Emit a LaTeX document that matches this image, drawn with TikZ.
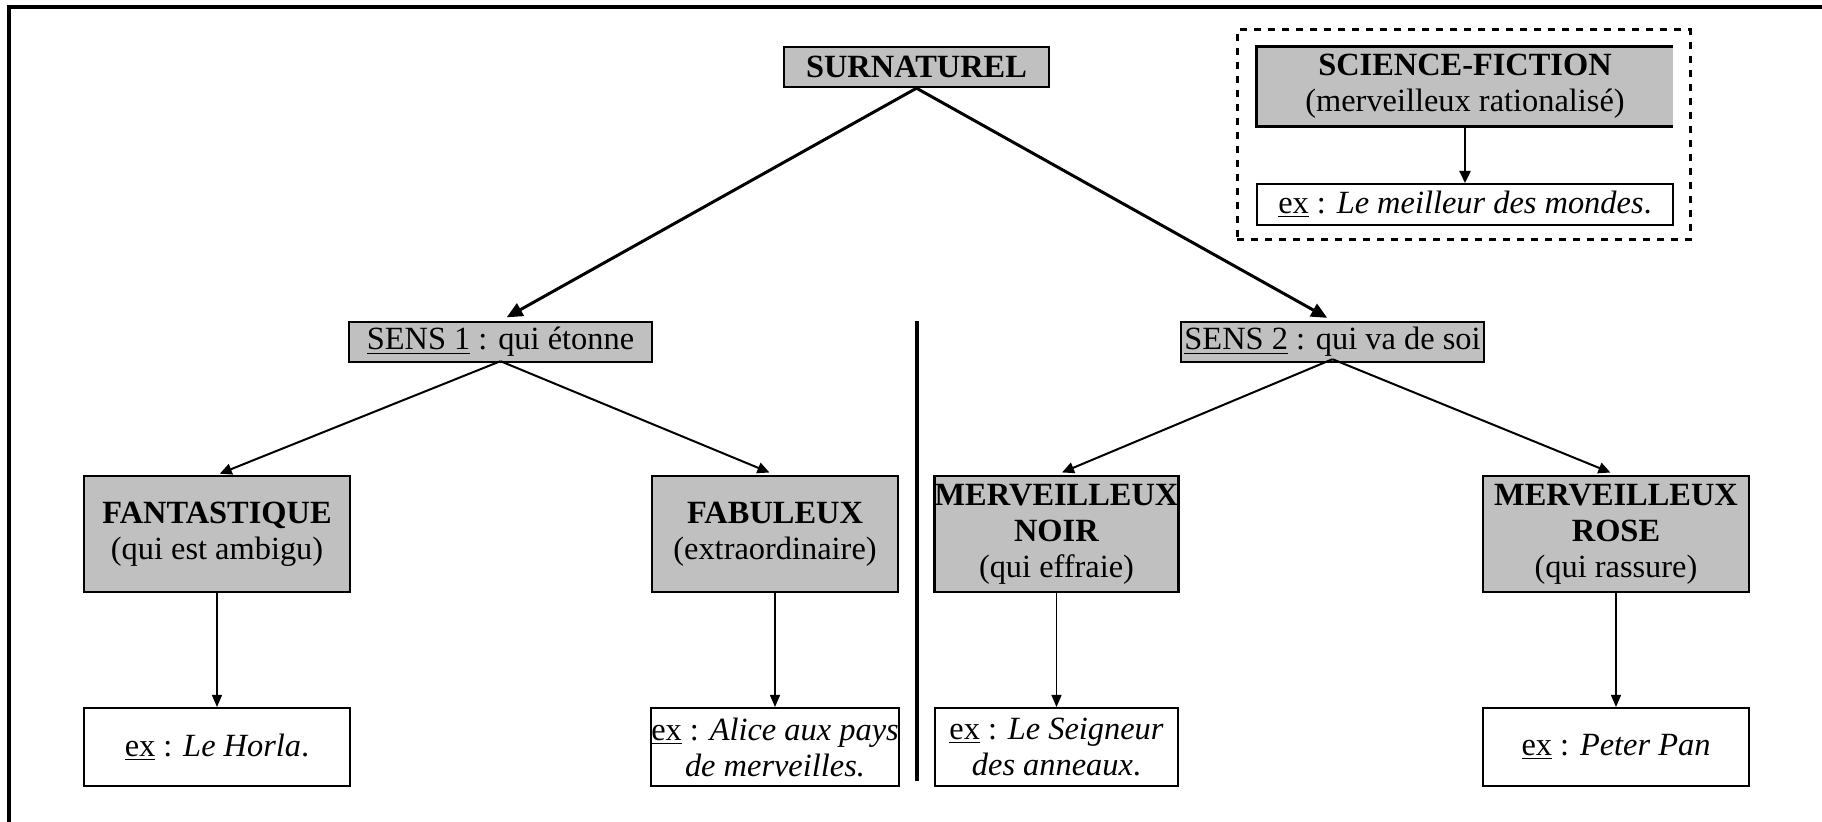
\documentclass[tikz,border=0pt]{standalone}
\usepackage{fontspec}
\setmainfont{Liberation Serif}
\usetikzlibrary{arrows.meta}
\definecolor{boxgray}{HTML}{C0C0C0}
\begin{document}
\begin{tikzpicture}[x=0.5pt,y=-0.5pt,
  every node/.style={font=\fontsize{16.2}{18}\selectfont, inner sep=0pt, align=center},
  gbox/.style={draw, line width=1.2pt, fill=boxgray},
  wbox/.style={draw, line width=1pt, fill=white},
  bigarrow/.style={line width=1.5pt, -{Triangle[length=8pt,width=7pt]}},
  midarrow/.style={line width=1pt, -{Triangle[length=6pt,width=5.5pt]}},
  sfarrow/.style={line width=1.2pt, -{Triangle[length=6pt,width=5.5pt]}},
  smallarrow/.style={line width=0.7pt, -{Triangle[length=6pt,width=5pt]}},
  dashframe/.style={draw, line width=1.5pt, dash pattern=on 3.5pt off 3.5pt}
]
\useasboundingbox (0,0) rectangle (1822,822);
% outer frame
\coordinate (fbl) at (9,822);
\coordinate (ftl) at (9,7);
\coordinate (ftr) at (1822,7);
\draw[line width=1.6pt] (fbl) -- (ftl) -- (ftr);

% top
\node[gbox, minimum width=132.5pt, minimum height=20pt] (sur) at (916.5,67) {\textbf{SURNATUREL}};

% science-fiction group
\node[dashframe, minimum width=226.5pt, minimum height=105pt] (dashbox) at (1463.5,135) {};
\node[fill=boxgray, minimum width=208pt, minimum height=39.5pt] (sf) at (1465,86.5) {\textbf{SCIENCE-FICTION}\\(merveilleux rationalisé)};
\draw[line width=1.2pt] (sf.north east) -- (sf.north west) -- (sf.south west) -- (sf.south east);
\node[wbox, minimum width=208pt, minimum height=20.5pt] (sfex) at (1465,204.5) {\underline{ex} : \textit{Le meilleur des mondes}.};
\draw[sfarrow] (sf.south) -- (sfex.north);

% senses
\node[gbox, minimum width=151.5pt, minimum height=20pt] (sens1) at (500.5,342) {\underline{SENS 1} : qui étonne};
\node[gbox, minimum width=151.5pt, minimum height=20pt] (sens2) at (1332.5,342) {\underline{SENS 2} : qui va de soi};
\draw[bigarrow, shorten >=3.5pt] (sur.south) -- (sens1.north);
\draw[bigarrow, shorten >=3pt] (sur.south) -- (sens2.north);

% divider
\coordinate (dtop) at (917,321);
\coordinate (dbot) at (917,781);
\draw[line width=1.6pt] (dtop) -- (dbot);

% categories
\node[gbox, minimum width=133pt, minimum height=58pt] (fant) at (217,534) {\textbf{FANTASTIQUE}\\(qui est ambigu)};
\node[gbox, minimum width=123pt, minimum height=58pt] (fab) at (775,534) {\textbf{FABULEUX}\\(extraordinaire)};
\node[gbox, minimum width=121.5pt, minimum height=58pt] (mn) at (1056.5,534) {\textbf{MERVEILLEUX}\\\textbf{NOIR}\\(qui effraie)};
\node[gbox, minimum width=133pt, minimum height=58pt] (mr) at (1616,534) {\textbf{MERVEILLEUX}\\\textbf{ROSE}\\(qui rassure)};

\draw[midarrow, shorten >=1.5pt] ([yshift=1pt]sens1.south) -- (fant.north);
\draw[midarrow, shorten >=3pt] ([yshift=1pt]sens1.south) -- (fab.north);
\draw[midarrow, shorten >=3pt] ([yshift=2pt]sens2.south) -- (mn.north);
\draw[midarrow, shorten >=3pt] ([yshift=2pt]sens2.south) -- (mr.north);

% examples
\node[wbox, minimum width=133pt, minimum height=39pt] (horla) at (217,747) {\underline{ex} : \textit{Le Horla}.};
\node[wbox, minimum width=124pt, minimum height=39pt] (alice) at (775,747) {\underline{ex} : \textit{Alice aux pays}\\\textit{de merveilles.}};
\node[wbox, minimum width=121.5pt, minimum height=39pt] (ls) at (1056.5,747) {\underline{ex} : \textit{Le Seigneur}\\\textit{des anneaux}.};
\node[wbox, minimum width=133pt, minimum height=39pt] (pp) at (1616,747) {\underline{ex} : \textit{Peter Pan}};

\draw[smallarrow] (fant.south) -- (horla.north);
\draw[smallarrow] (fab.south) -- (alice.north);
\draw[smallarrow] (mn.south) -- (ls.north);
\draw[smallarrow] (mr.south) -- (pp.north);
\end{tikzpicture}
\end{document}
